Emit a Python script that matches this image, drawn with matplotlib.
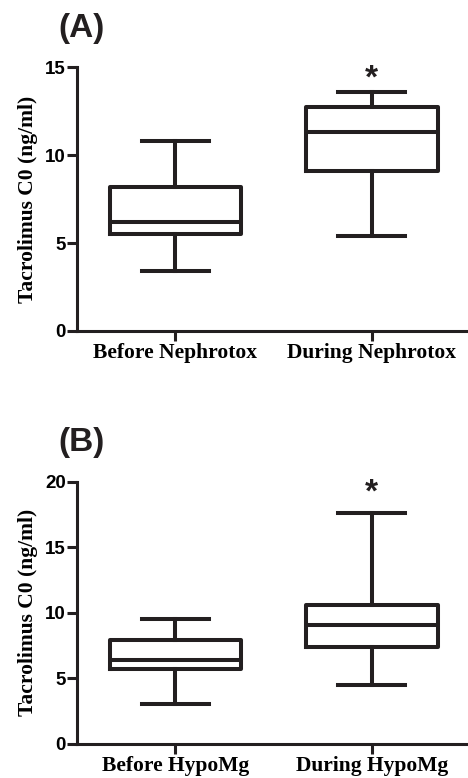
import matplotlib
matplotlib.use("Agg")
import matplotlib.pyplot as plt

# Panel A data
cats_a = ["Before Nephrotox", "During Nephrotox"]
low_a = [3.4, 5.4]
q1_a = [5.5, 9.1]
med_a = [6.2, 11.3]
q3_a = [8.2, 12.75]
high_a = [10.8, 13.6]
yticks_a = [0, 5, 10, 15]

# Panel B data
cats_b = ["Before HypoMg", "During HypoMg"]
low_b = [3.0, 4.5]
q1_b = [5.7, 7.35]
med_b = [6.4, 9.05]
q3_b = [7.9, 10.6]
high_b = [9.5, 17.6]
yticks_b = [0, 5, 10, 15, 20]

sig_b = [False, True]
sig_a = [False, True]

fig = plt.figure(figsize=(4.68, 7.78), dpi=100)

SANS = ["Liberation Sans", "DejaVu Sans"]
SERIF = ["Liberation Serif", "DejaVu Serif"]
LW = 2.9


def panel(rect, cats, lo, q1, med, q3, hi, yticks, sig, label, lab_y):
    ax = fig.add_axes(rect)
    stats = []
    for c, a, b, m, d, e in zip(cats, lo, q1, med, q3, hi):
        stats.append(dict(label=c, whislo=a, q1=b, med=m, q3=d, whishi=e, fliers=[]))
    ax.bxp(stats, positions=range(len(cats)), widths=0.67, showfliers=False,
           boxprops=dict(color="#231f20", linewidth=LW),
           whiskerprops=dict(color="#231f20", linewidth=LW),
           capprops=dict(color="#231f20", linewidth=LW),
           medianprops=dict(color="#231f20", linewidth=LW),
           capwidths=0.34)
    ax.set_xlim(-0.5, 1.49)
    ax.set_ylim(0, yticks[-1])
    ax.set_yticks(yticks)
    ax.set_yticklabels([str(t) for t in yticks], fontfamily=SANS, fontweight="bold", fontsize=13.5)
    ax.set_xticks(range(len(cats)))
    ax.set_xticklabels(cats, fontfamily=SERIF, fontweight="bold", fontsize=15.5)
    ax.spines["top"].set_visible(False)
    ax.spines["right"].set_visible(False)
    for s in ("left", "bottom"):
        ax.spines[s].set_linewidth(2.2)
        ax.spines[s].set_color("#231f20")
    ax.tick_params(axis="both", length=7, width=2.2, color="#231f20", pad=2)
    ax.tick_params(axis="y", pad=1)
    ax.set_ylabel("Tacrolimus C0 (ng/ml)", fontfamily=SERIF, fontweight="bold", fontsize=15.5, labelpad=5)
    for i, s in enumerate(sig):
        if s:
            ax.text(i, 0.955, "*", transform=ax.get_xaxis_transform(), ha="center", va="center",
                    fontsize=24, fontweight="bold", fontfamily=SANS, color="#231f20")
    fig.text(0.124, lab_y, label, fontsize=24, fontweight="bold", fontfamily=SANS,
             ha="left", va="center", color="#231f20")
    return ax


panel([0.165, 0.5746, 0.835, 0.3389], cats_a, low_a, q1_a, med_a, q3_a, high_a, yticks_a, sig_a, "(A)", 1 - 29 / 778)
panel([0.165, 0.0441, 0.835, 0.3368], cats_b, low_b, q1_b, med_b, q3_b, high_b, yticks_b, sig_b, "(B)", 1 - 443 / 778)

fig.savefig("out.png", dpi=100)
